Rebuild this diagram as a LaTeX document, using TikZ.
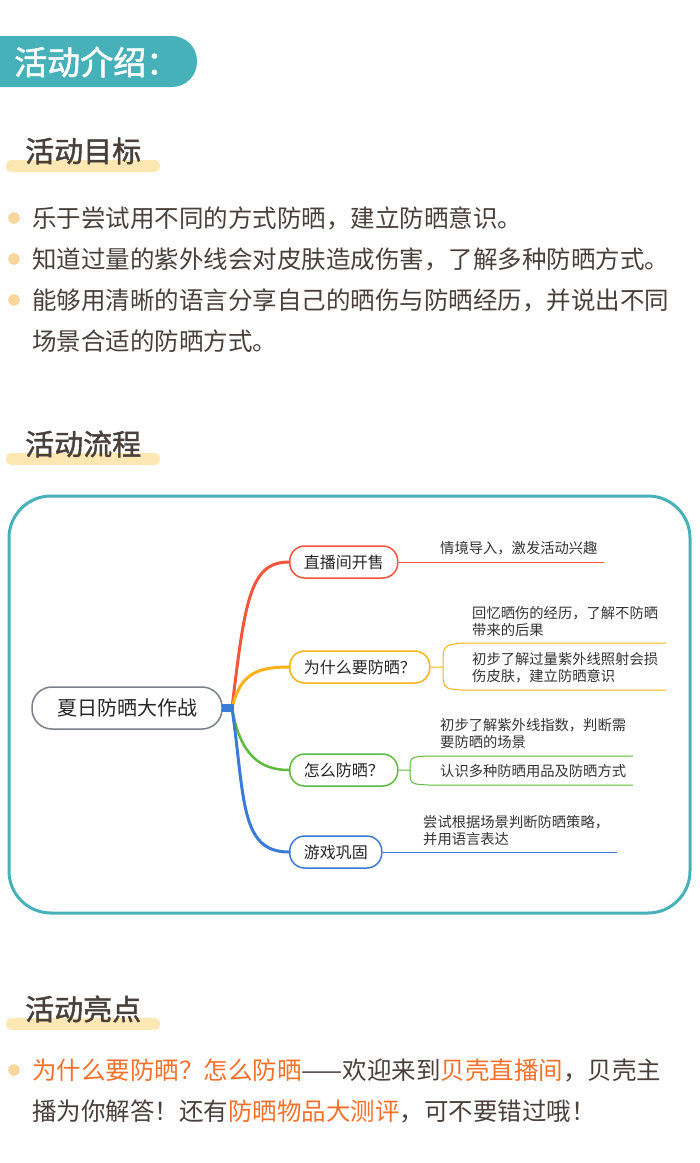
\documentclass[tikz,border=0pt]{standalone}
\usepackage{fontspec}
\setmainfont{Noto Sans CJK SC}
\newfontfamily\cjkb{Noto Sans CJK SC}[FakeBold=1.5]
\definecolor{teal}{HTML}{46B1B9}
\definecolor{ink}{HTML}{4A403B}
\definecolor{bar}{HTML}{FDE8B4}
\definecolor{dotc}{HTML}{F9D89E}
\definecolor{cr}{HTML}{F4553B}
\definecolor{co}{HTML}{FBB117}
\definecolor{cg}{HTML}{5DBB3D}
\definecolor{cb}{HTML}{3A7BD5}
\definecolor{hl}{HTML}{F4712B}
\definecolor{gr}{HTML}{7A7F88}
\begin{document}
\begin{tikzpicture}[x=1pt,y=-1pt,
 sect/.style={anchor=west,text=ink,font=\cjkb\fontsize{29}{30}\selectfont,inner sep=0},
 body/.style={anchor=west,text=ink,font=\fontsize{24.5}{26}\selectfont,inner sep=0},
 leaf/.style={anchor=west,text=black!80,font=\fontsize{14.3}{17}\selectfont,inner sep=0,align=left},
 mnode/.style={draw,line width=1.5pt,rounded corners=15pt,minimum height=32pt,inner xsep=14pt,anchor=west,text=black!85,font=\fontsize{16}{18}\selectfont},
 bul/.style={circle,fill=dotc,draw=dotc!80!orange,minimum size=11pt,inner sep=0}]
\useasboundingbox (0,0) rectangle (700,1163);
\fill[white] (0,0) rectangle (700,1163);
% header
\fill[teal,rounded corners=25pt] (-30,36) rectangle (197,87);
\node[anchor=west,text=white,font=\cjkb\fontsize{33}{34}\selectfont,inner sep=0] (h) at (14,62) {活动介绍：};
% section 1
\fill[bar,rounded corners=5pt] (6,160) rectangle (160,172);
\node[sect] (s1) at (25,151) {活动目标};
\node[bul] (b1) at (14,218) {}; \node[body] (t1) at (32,218) {乐于尝试用不同的方式防晒，建立防晒意识。};
\node[bul] (b2) at (14,259) {}; \node[body] (t2) at (32,259) {知道过量的紫外线会对皮肤造成伤害，了解多种防晒方式。};
\node[bul] (b3) at (14,300) {}; \node[body] (t3) at (32,300) {能够用清晰的语言分享自己的晒伤与防晒经历，并说出不同};
\node[body] (t4) at (32,341) {场景合适的防晒方式。};
% section 2
\fill[bar,rounded corners=5pt] (6,453) rectangle (160,465);
\node[sect] (s2) at (25,444) {活动流程};
\draw[teal,line width=3pt,rounded corners=42pt] (9,496) rectangle (690,913);
\node[draw=gr,line width=1.5pt,rounded corners=20pt,minimum width=190pt,minimum height=42pt,font=\fontsize{20}{22}\selectfont,text=black!85] (root) at (127,708) {夏日防晒大作战};
\coordinate (j) at (232,708);
\node[mnode,draw=cr] (n1) at (289,562) {直播间开售};
\node[mnode,draw=co] (n2) at (289,667) {为什么要防晒？};
\node[mnode,draw=cg] (n3) at (289,770) {怎么防晒？};
\node[mnode,draw=cb] (n4) at (289,852) {游戏巩固};
\draw[cr,line width=3pt] (j) .. controls (245,600) and (250,562) .. (n1.west);
\draw[co,line width=3pt] (j) .. controls (240,675) and (255,667) .. (n2.west);
\draw[cg,line width=2.5pt] (j) .. controls (240,755) and (260,770) .. (n3.west);
\draw[cb,line width=3pt] (j) .. controls (245,800) and (240,852) .. (n4.west);
\fill[cb] (222,704) rectangle (234,712);
% leaves
\draw[cr,line width=1pt] (n1.east) -- (604,562);
\node[leaf] (l1) at (440,548) {情境导入，激发活动兴趣};
\draw[co,line width=1pt] (n2.east) -- (443,667) .. controls (443,645) .. (463,643) -- (666,643);
\draw[co,line width=1pt] (443,667) .. controls (443,689) .. (463,690) -- (666,690);
\node[leaf] (l2) at (472,622) {回忆晒伤的经历，了解不防晒\\带来的后果};
\node[leaf] (l3) at (472,668) {初步了解过量紫外线照射会损\\伤皮肤，建立防晒意识};
\draw[cg,line width=1pt] (n3.east) -- (410,770) .. controls (410,757) .. (428,756) -- (633,756);
\draw[cg,line width=1pt] (410,770) .. controls (410,784) .. (428,785) -- (633,785);
\node[leaf] (l4) at (440,734) {初步了解紫外线指数，判断需\\要防晒的场景};
\node[leaf] (l5) at (440,771) {认识多种防晒用品及防晒方式};
\draw[cb,line width=1pt] (n4.east) -- (617,852);
\node[leaf] (l6) at (423,831) {尝试根据场景判断防晒策略，\\并用语言表达};
% section 3
\fill[bar,rounded corners=5pt] (6,1018) rectangle (160,1030);
\node[sect] (s3) at (25,1009) {活动亮点};
\node[bul] (b4) at (14,1070) {};
\node[body] (t5) at (32,1070) {\textcolor{hl}{为什么要防晒？怎么防晒}——欢迎来到\textcolor{hl}{贝壳直播间}，贝壳主};
\node[body] (t6) at (32,1111) {播为你解答！还有\textcolor{hl}{防晒物品大测评}，可不要错过哦！};
\end{tikzpicture}
\end{document}
